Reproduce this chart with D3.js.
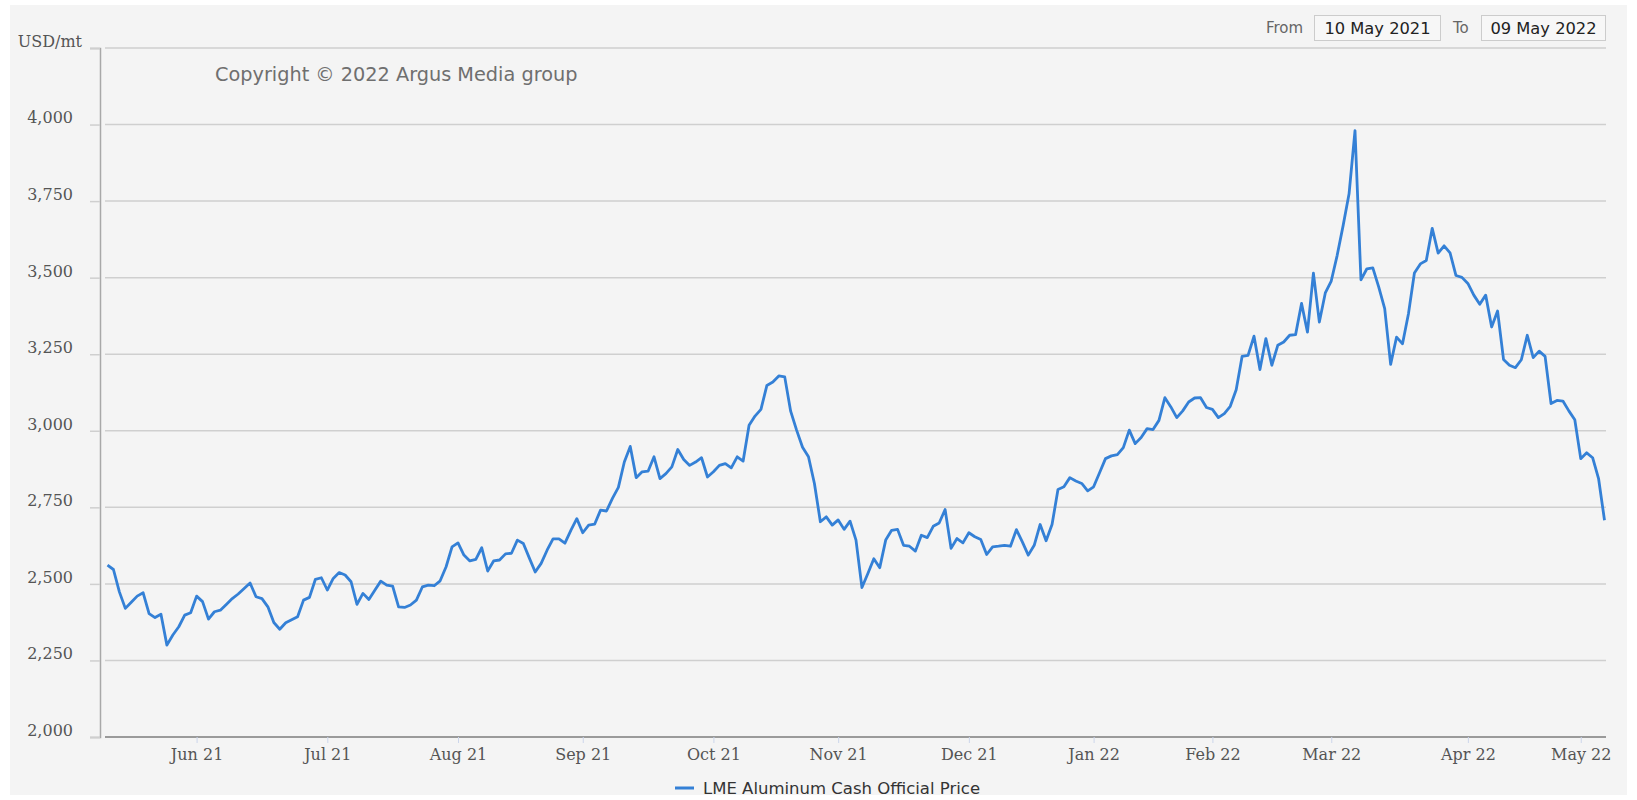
<!DOCTYPE html>
<html>
<head>
<meta charset="utf-8">
<script src="https://cdn.jsdelivr.net/npm/d3@7"></script>
<style>
  body { margin: 0; background: #fff; }
  svg { display: block; }
</style>
</head>
<body>
<div id="chart"></div>
<script>
// Data
const startDate = "2021-05-10";
const endDate = "2022-05-09";
// LME non-trading days in the period (UK bank holidays)
const holidays = ["2021-05-31", "2021-08-30", "2021-12-27", "2021-12-28",
  "2022-01-03", "2022-04-15", "2022-04-18", "2022-05-02"];

// LME Aluminum cash official price, USD/mt, one value per trading day
const prices = [
  // May 21
  2561, 2547, 2474, 2420, 2440, 2460, 2471, 2403, 2390, 2401, 2300, 2333, 2360, 2398, 2406,
  // Jun 21
  2460, 2442, 2385, 2409, 2414, 2433, 2452, 2467, 2485, 2503, 2458, 2452, 2425, 2374, 2352,
  2373, 2383, 2393, 2447, 2456, 2515, 2520,
  // Jul 21
  2480, 2518, 2537, 2529, 2507, 2433, 2469, 2449, 2479, 2509, 2496, 2493, 2425, 2423, 2431,
  2447, 2490, 2496, 2494, 2510, 2556, 2621,
  // Aug 21
  2634, 2594, 2575, 2580, 2618, 2542, 2575, 2578, 2598, 2600, 2643, 2632, 2585, 2539, 2567,
  2610, 2647, 2647, 2633, 2675, 2713,
  // Sep 21
  2667, 2692, 2695, 2741, 2738, 2779, 2815, 2898, 2949, 2847, 2866, 2868, 2915, 2844, 2860,
  2882, 2939, 2906, 2887, 2898, 2912, 2849,
  // Oct 21
  2866, 2887, 2893, 2879, 2915, 2901, 3018, 3048, 3070, 3148, 3159, 3179, 3176, 3064, 3002,
  2946, 2915, 2828, 2703, 2719, 2692,
  // Nov 21
  2709, 2678, 2705, 2643, 2488, 2534, 2582, 2553, 2643, 2675, 2678, 2626, 2623, 2607, 2659,
  2651, 2688, 2699, 2743, 2616, 2648, 2634,
  // Dec 21
  2667, 2654, 2645, 2596, 2621, 2623, 2626, 2623, 2677, 2637, 2594, 2626, 2694, 2641, 2694,
  2808, 2817, 2847, 2836, 2828, 2804,
  // Jan 22
  2817, 2863, 2909, 2918, 2922, 2945, 3002, 2958, 2978, 3007, 3004, 3034, 3108, 3078, 3043,
  3065, 3094, 3107, 3108, 3076,
  // Feb 22
  3070, 3043, 3056, 3080, 3134, 3243, 3246, 3309, 3200, 3301, 3214, 3279, 3290, 3312, 3314,
  3416, 3322, 3515, 3355, 3450,
  // Mar 22
  3489, 3573, 3670, 3774, 3980, 3493, 3529, 3532, 3469, 3399, 3217, 3306, 3284, 3382, 3515,
  3545, 3556, 3661, 3580, 3604, 3581, 3507, 3501,
  // Apr 22
  3481, 3443, 3413, 3443, 3339, 3391, 3233, 3214, 3206, 3232, 3312, 3239, 3260, 3243, 3089,
  3099, 3097, 3065, 3036,
  // May 22
  2909, 2928, 2912, 2844, 2708
];

const yTicks = [2000, 2250, 2500, 2750, 3000, 3250, 3500, 3750, 4000];
const yTop = 4250;
const yUnit = "USD/mt";
const seriesName = "LME Aluminum Cash Official Price";
const copyright = "Copyright \u00a9 2022 Argus Media group";
const rangeFrom = "10 May 2021";
const rangeTo = "09 May 2022";

// Trading days
const parse = d3.timeParse("%Y-%m-%d");
const fmtKey = d3.timeFormat("%Y-%m-%d");
const days = d3.timeDay.range(parse(startDate), d3.timeDay.offset(parse(endDate), 1))
  .filter(d => d.getDay() !== 0 && d.getDay() !== 6 && !holidays.includes(fmtKey(d)));
const keys = days.map(fmtKey);
if (keys.length !== prices.length) console.warn("length mismatch", keys.length, prices.length);

// first trading day of each new month
const monthTicks = keys.filter((k, i) => i > 0 && k.slice(0, 7) !== keys[i - 1].slice(0, 7));

// Set up
const width = 1637, height = 800;
const plotLeft = 100, plotRight = 1606, plotTop = 48, plotBottom = 737;

const svg = d3.select("#chart").append("svg")
  .attr("width", width)
  .attr("height", height)
  .style("font-family", "'DejaVu Sans', sans-serif");

svg.append("rect")
  .attr("x", 10).attr("y", 5)
  .attr("width", 1617).attr("height", 790)
  .attr("fill", "#f4f4f4");

const x = d3.scalePoint()
  .domain(keys)
  .range([107.5, 1604.5]);

const y = d3.scaleLinear()
  .domain([2000, yTop])
  .range([plotBottom, plotTop]);

// Gridlines
svg.append("g")
  .attr("class", "grid")
  .selectAll("line")
  .data(yTicks.concat([yTop]).filter(v => v !== 2000))
  .enter()
  .append("line")
  .attr("x1", 105).attr("x2", plotRight)
  .attr("y1", d => y(d)).attr("y2", d => y(d))
  .attr("stroke", "#cfcfcf")
  .attr("stroke-width", 1.5);

// Y axis
const yAxis = svg.append("g")
  .attr("class", "y-axis")
  .attr("transform", "translate(" + plotLeft + ",0)")
  .call(d3.axisLeft(y)
    .tickValues(yTicks.concat([yTop]))
    .tickSize(10)
    .tickPadding(17)
    .tickFormat(d => d === yTop ? yUnit : d3.format(",")(d)));

yAxis.select(".domain").attr("stroke", "#a8a8a8").attr("stroke-width", 1.5);
yAxis.selectAll(".tick line").attr("stroke", "#cfcfcf").attr("stroke-width", 1.5);
yAxis.selectAll(".tick text")
  .attr("fill", "#555")
  .attr("dy", "-0.1em")
  .style("font-family", "'DejaVu Serif', serif")
  .style("font-size", "16px");
yAxis.selectAll(".tick text")
  .filter(d => d === yTop)
  .attr("x", -18);

// X axis
const xAxis = svg.append("g")
  .attr("class", "x-axis")
  .attr("transform", "translate(0," + plotBottom + ")")
  .call(d3.axisBottom(x)
    .tickValues(monthTicks)
    .tickSize(6)
    .tickPadding(6)
    .tickFormat(k => d3.timeFormat("%b %y")(parse(k))));

xAxis.select(".domain").remove();
xAxis.insert("line", ":first-child")
  .attr("x1", 105).attr("x2", plotRight)
  .attr("y1", 0).attr("y2", 0)
  .attr("stroke", "#9a9a9a")
  .attr("stroke-width", 2);
xAxis.selectAll(".tick line").attr("stroke", "#ccd6eb").attr("stroke-width", 1);
xAxis.selectAll(".tick text")
  .attr("fill", "#555")
  .style("font-family", "'DejaVu Serif', serif")
  .style("font-size", "16px");

// Copyright
svg.append("text")
  .attr("x", 215).attr("y", 81)
  .attr("fill", "#6f6f6f")
  .style("font-size", "19.3px")
  .text(copyright);

// Line
const line = d3.line()
  .x((d, i) => x(keys[i]))
  .y(d => y(d));

svg.append("path")
  .datum(prices)
  .attr("fill", "none")
  .attr("stroke", "#3480d6")
  .attr("stroke-width", 2.8)
  .attr("stroke-linejoin", "round")
  .attr("d", line);

// Range selector boxes
const range = svg.append("g").attr("class", "range");
range.append("text").attr("x", 1266).attr("y", 33).attr("fill", "#666")
  .style("font-size", "15px").text("From");
range.append("rect").attr("x", 1314.5).attr("y", 15.5).attr("width", 126).attr("height", 25)
  .attr("fill", "#f7f7f7").attr("stroke", "#cccccc");
range.append("text").attr("x", 1377.5).attr("y", 34).attr("text-anchor", "middle")
  .attr("fill", "#222").style("font-size", "16.3px").text(rangeFrom);
range.append("text").attr("x", 1453).attr("y", 33).attr("fill", "#666")
  .style("font-size", "15px").text("To");
range.append("rect").attr("x", 1481.5).attr("y", 15.5).attr("width", 124).attr("height", 25)
  .attr("fill", "#f7f7f7").attr("stroke", "#cccccc");
range.append("text").attr("x", 1543.5).attr("y", 34).attr("text-anchor", "middle")
  .attr("fill", "#222").style("font-size", "16.3px").text(rangeTo);

// Legend
const legend = svg.append("g").attr("class", "legend");
legend.append("line")
  .attr("x1", 675).attr("x2", 694)
  .attr("y1", 788).attr("y2", 788)
  .attr("stroke", "#3480d6")
  .attr("stroke-width", 3);
legend.append("text")
  .attr("x", 703).attr("y", 794)
  .attr("fill", "#333")
  .style("font-size", "16.5px")
  .text(seriesName);
</script>
</body>
</html>
